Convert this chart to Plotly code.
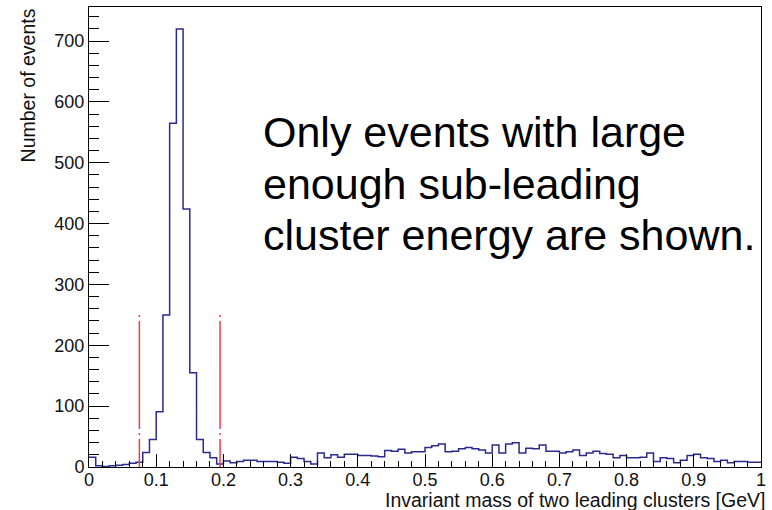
import plotly.graph_objects as go

# ---- data ----
bin_low_edges = [round(i * 0.01, 2) for i in range(100)]
counts = [
    16, 2, 1, 2, 3, 4, 6, 8, 24, 45,
    91, 250, 565, 720, 424, 155, 45, 24, 15, 5,
    10, 7, 9, 11, 11, 9, 9, 9, 8, 6,
    16, 14, 9, 5, 23, 15, 20, 16, 21, 21,
    19, 19, 18, 17, 27, 26, 29, 23, 25, 25,
    32, 35, 38, 25, 26, 30, 32, 30, 28, 23,
    36, 23, 38, 40, 23, 31, 30, 36, 26, 26,
    23, 25, 28, 19, 23, 26, 22, 21, 15, 19,
    15, 15, 16, 23, 9, 15, 14, 7, 11, 19,
    21, 15, 14, 9, 11, 7, 9, 9, 8, 8,
]
x_max = 1.0
cut_positions = [0.075, 0.195]
cut_height = 250
y_max = 756

x_ticks = [0, 0.1, 0.2, 0.3, 0.4, 0.5, 0.6, 0.7, 0.8, 0.9, 1]
x_ticklabels = ["0", "0.1", "0.2", "0.3", "0.4", "0.5", "0.6", "0.7", "0.8", "0.9", "1"]
y_ticks = [0, 100, 200, 300, 400, 500, 600, 700]

note_lines = ["Only events with large", "enough sub-leading", "cluster energy are shown."]
x_title = "Invariant mass of two leading clusters [GeV]"
y_title = "Number of events"

FONT = "Liberation Sans, Arial, sans-serif"

fig = go.Figure()

# histogram outline as step line
fig.add_trace(go.Scatter(
    x=bin_low_edges + [x_max],
    y=counts + [counts[-1]],
    mode="lines",
    line=dict(shape="hv", color="#2a2a8e", width=1.5),
    hoverinfo="skip",
    showlegend=False,
))

# cut lines
for xc in cut_positions:
    fig.add_trace(go.Scatter(
        x=[xc, xc], y=[cut_height, 0],
        mode="lines",
        line=dict(color="#e8404a", width=1.5, dash="2px,4px,108px,4px"),
        hoverinfo="skip",
        showlegend=False,
    ))

W, H = 772, 510
L, R, T, B = 89, 6, 7, 43
pw, ph = W - L - R, H - T - B

def px_x(p):
    return (p - L) / pw

def px_y(q):
    return (H - B - q) / ph

fig.update_layout(
    width=W, height=H,
    margin=dict(l=L, r=R, t=T, b=B, pad=0),
    paper_bgcolor="white", plot_bgcolor="white",
    font=dict(family=FONT, size=18, color="#111"),
    showlegend=False,
)

fig.update_xaxes(
    range=[0, x_max],
    tickmode="array", tickvals=x_ticks, ticktext=x_ticklabels,
    ticks="inside", ticklen=13, tickwidth=1, tickcolor="black",
    minor=dict(dtick=0.02, ticks="inside", ticklen=6, tickwidth=1, tickcolor="black", showgrid=False),
    showline=True, linecolor="black", linewidth=1, mirror=True,
    showgrid=False, zeroline=False,
    ticklabelstandoff=-4,
    tickfont=dict(family=FONT, size=18, color="#111"),
)
fig.update_yaxes(
    range=[0, y_max],
    tickmode="array", tickvals=y_ticks,
    ticks="inside", ticklen=20, tickwidth=1, tickcolor="black",
    minor=dict(dtick=20, ticks="inside", ticklen=10, tickwidth=1, tickcolor="black", showgrid=False),
    showline=True, linecolor="black", linewidth=1, mirror=True,
    showgrid=False, zeroline=False,
    tickfont=dict(family=FONT, size=18, color="#111"),
)

annotations = []
# axis titles
annotations.append(dict(
    text=x_title, xref="paper", yref="paper",
    x=px_x(385), y=px_y(500), xanchor="left", yanchor="middle",
    showarrow=False, font=dict(family=FONT, size=19.5, color="#111"),
))
annotations.append(dict(
    text=y_title, xref="paper", yref="paper",
    x=px_x(28), y=px_y(6), xanchor="center", yanchor="top", textangle=-90,
    showarrow=False, font=dict(family=FONT, size=19.5, color="#111"),
))
# note text
line_centers = [132, 184, 235]
for txt, yc in zip(note_lines, line_centers):
    annotations.append(dict(
        text=txt, xref="paper", yref="paper",
        x=px_x(262), y=px_y(yc), xanchor="left", yanchor="middle",
        showarrow=False, font=dict(family=FONT, size=43, color="black"),
    ))
fig.update_layout(annotations=annotations)

fig.write_html("out.html")
